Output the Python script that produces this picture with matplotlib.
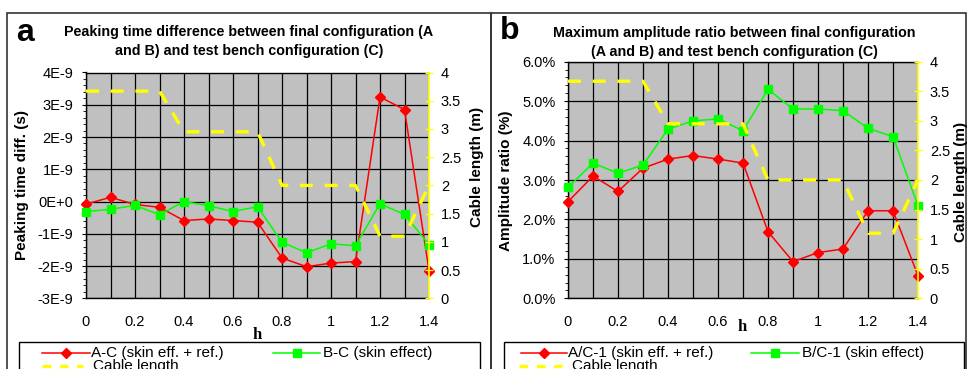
import matplotlib
matplotlib.use("Agg")
import matplotlib.pyplot as plt
from matplotlib.lines import Line2D
from matplotlib.patches import Rectangle
from matplotlib.ticker import FixedLocator, FuncFormatter, AutoMinorLocator

plt.rcParams['font.family'] = ['Liberation Sans', 'DejaVu Sans']

# ---- data -------------------------------------------------------------
h = [0.0, 0.1, 0.2, 0.3, 0.4, 0.5, 0.6, 0.7, 0.8, 0.9, 1.0, 1.1, 1.2, 1.3, 1.4]
cable_length = [3.67, 3.67, 3.67, 3.67, 2.95, 2.95, 2.95, 2.95,
                2.0, 2.0, 2.0, 2.0, 1.1, 1.1, 2.0]

# peaking time differences (s)
peak_ac = [-0.08e-9, 0.13e-9, -0.09e-9, -0.18e-9, -0.59e-9, -0.54e-9, -0.59e-9,
           -0.64e-9, -1.75e-9, -2.02e-9, -1.91e-9, -1.86e-9, 3.24e-9, 2.85e-9,
           -2.14e-9]
peak_bc = [-0.31e-9, -0.24e-9, -0.12e-9, -0.41e-9, 0.0, -0.13e-9, -0.31e-9,
           -0.16e-9, -1.26e-9, -1.59e-9, -1.31e-9, -1.37e-9, -0.07e-9, -0.40e-9,
           -1.34e-9]

# maximum amplitude ratios (%)
amp_ac = [2.45, 3.10, 2.71, 3.30, 3.53, 3.62, 3.53, 3.43, 1.69, 0.93, 1.16,
          1.25, 2.22, 2.22, 0.57]
amp_bc = [2.81, 3.43, 3.17, 3.38, 4.29, 4.50, 4.55, 4.25, 5.30, 4.80, 4.80,
          4.76, 4.31, 4.10, 2.34]

x_major = [0.0, 0.2, 0.4, 0.6, 0.8, 1.0, 1.2, 1.4]
x_minor = [0.1, 0.3, 0.5, 0.7, 0.9, 1.1, 1.3]
peak_ticks = [-3e-9, -2e-9, -1e-9, 0.0, 1e-9, 2e-9, 3e-9, 4e-9]
amp_ticks = [0, 1, 2, 3, 4, 5, 6]
len_ticks = [0, 0.5, 1, 1.5, 2, 2.5, 3, 3.5, 4]

RED = '#FF0000'
GREEN = '#00FF00'
YELLOW = '#FFFF00'
BG = '#C0C0C0'

W, H = 968, 369
fig = plt.figure(figsize=(W / 100, H / 100), dpi=100)


def fx(px):
    return px / W


def fy(py):
    return 1 - py / H


def make_panel(left, top, right, bottom, ac, bc, yticks, ylim, yfmt):
    ax = fig.add_axes([fx(left), fy(bottom), fx(right) - fx(left), fy(top) - fy(bottom)])
    ax.set_facecolor(BG)
    ax.set_axisbelow(True)
    ax.plot(h, ac, color=RED, lw=1.1, marker='D', ms=5, mec=RED, mfc=RED,
            clip_on=False, zorder=3)
    ax.plot(h, bc, color=GREEN, lw=1.1, marker='s', ms=6, mec=GREEN, mfc=GREEN,
            clip_on=False, zorder=3)
    ax.set_xlim(0, 1.4)
    ax.set_ylim(*ylim)
    ax.xaxis.set_major_locator(FixedLocator(x_major))
    ax.xaxis.set_minor_locator(FixedLocator(x_minor))
    ax.xaxis.set_major_formatter(FuncFormatter(lambda v, p: f"{v:g}"))
    ax.yaxis.set_major_locator(FixedLocator(yticks))
    ax.yaxis.set_minor_locator(AutoMinorLocator(5))
    ax.yaxis.set_major_formatter(FuncFormatter(yfmt))
    ax.grid(True, which='major', color='black', lw=0.9)
    ax.grid(True, which='minor', axis='x', color='black', lw=0.9)
    ax.tick_params(axis='x', which='both', length=0, pad=12, labelsize=10.5)
    ax.tick_params(axis='y', which='major', direction='out', length=3, width=0.8,
                   pad=6, labelsize=10.5)
    ax.tick_params(axis='y', which='minor', direction='out', length=2, width=0.6)
    for s in ('left', 'bottom', 'top'):
        ax.spines[s].set_color('black')
        ax.spines[s].set_linewidth(1.0)
    ax.spines['right'].set_visible(False)

    ax2 = ax.twinx()
    ax2.plot(h, cable_length, color=YELLOW, lw=2.4, dashes=(3.9, 3.5), zorder=2)
    ax2.set_ylim(0, 4)
    ax2.yaxis.set_major_locator(FixedLocator(len_ticks))
    ax2.yaxis.set_major_formatter(FuncFormatter(lambda v, p: f"{v:g}"))
    ax2.tick_params(axis='y', direction='inout', length=6, width=0.9, color=YELLOW,
                    pad=5.5, labelsize=10.5)
    for s in ('left', 'bottom', 'top'):
        ax2.spines[s].set_visible(False)
    ax2.spines['right'].set_color(YELLOW)
    ax2.spines['right'].set_linewidth(1.2)
    return ax, ax2


def peak_fmt(v, p):
    n = int(round(v * 1e9))
    return "0E+0" if n == 0 else f"{n}E-9"


ax_a, ax_a2 = make_panel(86, 72.5, 429, 298.3, peak_ac, peak_bc, peak_ticks,
                         (-3e-9, 4e-9), peak_fmt)
ax_b, ax_b2 = make_panel(568, 61.7, 918, 298.3, amp_ac, amp_bc, amp_ticks,
                         (0, 6), lambda v, p: f"{v:.1f}%")

# ---- panel frames ------------------------------------------------------
for x0, x1 in ((7, 491), (491, 966)):
    fig.add_artist(Rectangle((fx(x0), fy(390)), fx(x1) - fx(x0), fy(13) - fy(390),
                             transform=fig.transFigure, fill=False,
                             edgecolor='#333333', lw=1.2))

# ---- panel letters and titles ----------------------------------------
fig.text(fx(25), fy(33), 'a', fontsize=23, fontweight='bold', ha='center', va='center')
fig.text(fx(510), fy(31), 'b', fontsize=23, fontweight='bold', ha='center', va='center')

tkw = dict(fontsize=10.3, fontweight='bold', ha='center', va='center')
fig.text(fx(249), fy(32), 'Peaking time difference between final configuration (A', **tkw)
fig.text(fx(249), fy(51.5), 'and B) and test bench configuration (C)', **tkw)
fig.text(fx(734), fy(33), 'Maximum amplitude ratio between final configuration', **tkw)
fig.text(fx(734), fy(52), '(A and B) and test bench configuration (C)', **tkw)

# ---- axis titles -----------------------------------------------------
lkw = dict(fontsize=11, fontweight='bold', ha='center', va='center', rotation=90)
fig.text(fx(22), fy(185), 'Peaking time diff. (s)', **lkw)
fig.text(fx(477), fy(167), 'Cable length (m)', **lkw)
fig.text(fx(506), fy(181), 'Amplitude ratio (%)', **lkw)
fig.text(fx(961), fy(182), 'Cable length (m)', **lkw)

hkw = dict(fontsize=12, fontweight='bold', ha='center', va='center',
           family=['Liberation Serif', 'DejaVu Serif'])
fig.text(fx(257), fy(335), 'h', **hkw)
fig.text(fx(742), fy(327), 'h', **hkw)


# ---- legends ---------------------------------------------------------
def legend_box(x0, x1, red_x, red_label, green_x, green_label, yel_x, yel_text_x):
    fig.add_artist(Rectangle((fx(x0), fy(400)), fx(x1) - fx(x0), fy(342) - fy(400),
                             transform=fig.transFigure, facecolor='white',
                             edgecolor='black', lw=1.0))
    r0, r1 = red_x
    fig.add_artist(Line2D([fx(r0), fx(r1)], [fy(353), fy(353)], transform=fig.transFigure,
                          color=RED, lw=1.1))
    fig.add_artist(Line2D([fx((r0 + r1) / 2)], [fy(353)], transform=fig.transFigure,
                          color=RED, marker='D', ms=5, ls='none'))
    fig.text(fx(r1 + 1), fy(353), red_label, fontsize=11, va='center', ha='left')
    g0, g1 = green_x
    fig.add_artist(Line2D([fx(g0), fx(g1)], [fy(353), fy(353)], transform=fig.transFigure,
                          color=GREEN, lw=1.1))
    fig.add_artist(Line2D([fx((g0 + g1) / 2)], [fy(353)], transform=fig.transFigure,
                          color=GREEN, marker='s', ms=6, ls='none'))
    fig.text(fx(g1 + 3), fy(353), green_label, fontsize=11, va='center', ha='left')
    y0, y1 = yel_x
    fig.add_artist(Line2D([fx(y0), fx(y1)], [fy(366), fy(366)], transform=fig.transFigure,
                          color=YELLOW, lw=2.4, dashes=(2.6, 2.6)))
    fig.text(fx(yel_text_x), fy(366), 'Cable length', fontsize=11, va='center', ha='left')


legend_box(19, 480, (42, 90), 'A-C (skin eff. + ref.)', (273, 320),
           'B-C (skin effect)', (42, 83), 93)
legend_box(504, 964, (521, 567), 'A/C-1 (skin eff. + ref.)', (751, 799),
           'B/C-1 (skin effect)', (519, 562), 572)

fig.savefig('out.png', dpi=100)
